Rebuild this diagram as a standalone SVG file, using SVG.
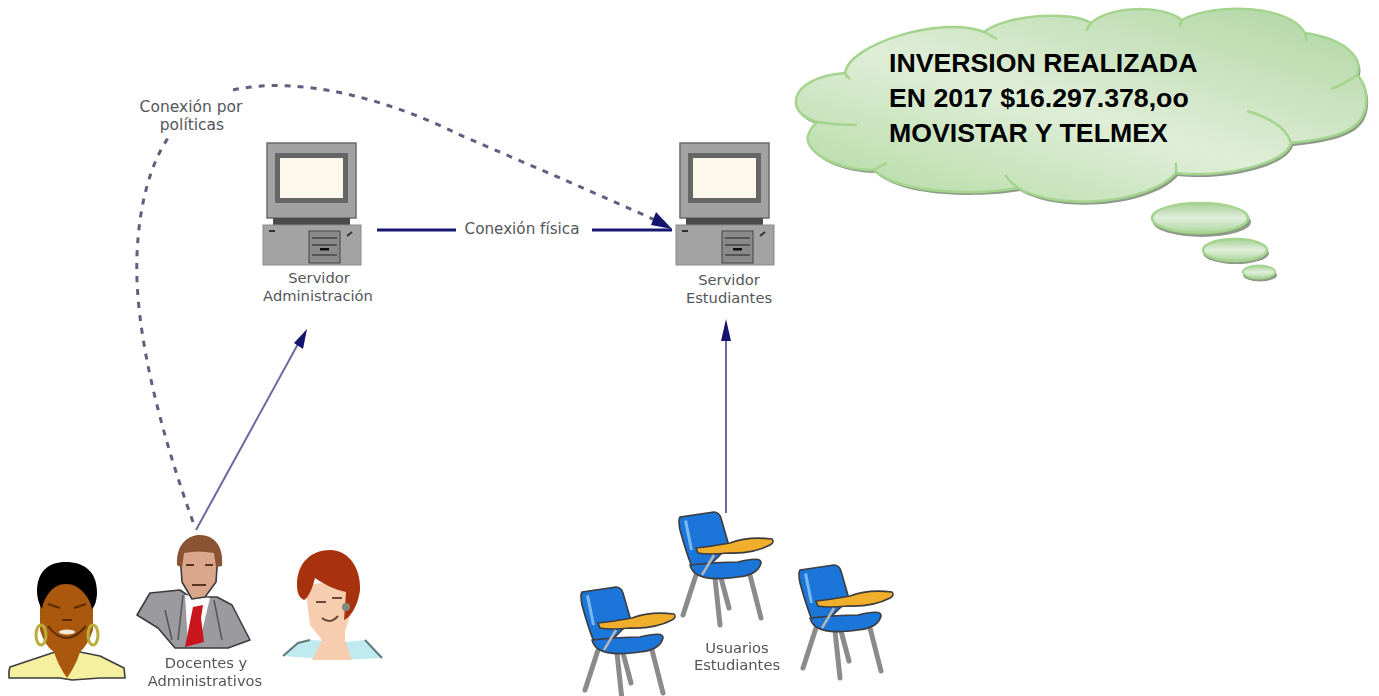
<svg xmlns="http://www.w3.org/2000/svg" xmlns:xlink="http://www.w3.org/1999/xlink" width="1379" height="696" viewBox="0 0 1379 696">
<style>
.lbl{font-family:"DejaVu Sans",Verdana,sans-serif;font-size:14.7px;fill:#55565a;text-anchor:middle}
.ct{font-family:"Liberation Sans",Arial,sans-serif;font-size:26.7px;font-weight:bold;fill:#000}
.cl{fill:url(#cg);stroke:#a4d48e;stroke-width:2.5}
.cs{fill:#8d9a88}
.cr{fill:none;stroke:#a4d48e;stroke-width:2.5}
.ink{stroke:#3c3c3c;stroke-width:1.6;stroke-linejoin:round}
.leg{fill:none;stroke:#8b8b8b;stroke-width:5;stroke-linecap:round}
.dash{fill:none;stroke:#5f5f80;stroke-width:3;stroke-dasharray:6 7}
.thin{fill:none;stroke:#6a6aa0;stroke-width:2}
.thick{fill:none;stroke:#17176e;stroke-width:3.2}
.head{fill:#14146e}
.soft{filter:url(#soft)}
</style>
<defs>
<filter id="soft" x="-5%" y="-5%" width="110%" height="110%"><feGaussianBlur stdDeviation="0.6"/></filter>
<linearGradient id="cg" x1="1" y1="0" x2="0.1" y2="1">
<stop offset="0" stop-color="#aed5a0"/><stop offset="0.55" stop-color="#dfeed7"/><stop offset="1" stop-color="#b5dba6"/>
</linearGradient>
<linearGradient id="bg" x1="0" y1="0" x2="0" y2="1">
<stop offset="0" stop-color="#a8d29a"/><stop offset="0.5" stop-color="#e0eeda"/><stop offset="1" stop-color="#add69f"/>
</linearGradient>
<path id="cloud" d="M845 73C848 45 940 15 984 32C1005 15 1070 10 1091 23C1110 5 1165 5 1182 20C1215 2 1290 5 1305 33C1340 38 1365 55 1357 75C1368 85 1368 105 1363 115C1355 135 1320 140 1291 143C1285 165 1220 178 1176 173C1150 203 1060 212 1018 188C980 195 900 195 874 170C835 170 800 150 809 133C811 128 814 124 818 122C785 115 785 78 845 73Z"/>
<g id="computer">
<rect x="267" y="143" width="89" height="75" fill="#a2a2a2" stroke="#6b6b6b" stroke-width="1.5"/>
<rect x="275" y="153" width="73" height="50" fill="#666"/>
<rect x="280" y="158" width="63" height="40" fill="#fdf8ec"/>
<rect x="273" y="218" width="77" height="8" fill="#4c4c4c"/>
<rect x="263" y="225" width="98" height="40" fill="#a3a3a3" stroke="#8a8a8a"/>
<rect x="309" y="231" width="31" height="32" fill="#8a8a8a" stroke="#444"/>
<path d="M312 238H337M312 245H337M312 255H337" stroke="#444" stroke-width="1.4"/>
<rect x="320" y="248" width="9" height="2.5" fill="#111"/>
<rect x="269" y="230" width="6" height="2" fill="#333"/>
<path d="M347 236l5-4" stroke="#333" stroke-width="2"/>
</g>
<g id="chair">
<g class="leg">
<path d="M18 65L5 105"/><path d="M37 68L42 115"/><path d="M43 68L51 98"/><path d="M72 65L83 108"/>
</g>
<path class="ink" fill="#1a74d8" stroke-width="2" d="M2 7L36 2Q41 2 43 8L51 36L32 55L14 57Q8 42 2 20Q0 10 2 7Z"/>
<path fill="#7ab8f0" d="M6 11L9 10L15 40L12 40Z"/>
<path class="ink" fill="#1a74d8" d="M12 55Q40 52 60 52Q84 46 83 53Q80 65 60 67Q30 71 20 65Q14 62 12 55Z"/>
<path class="ink" fill="#f1ae2b" d="M18 38Q30 37 52 33Q70 26 94 29Q97 32 92 35Q75 44 50 43Q30 45 20 43Z"/>
<path d="M36 45L24 65" stroke="#b6b6b6" stroke-width="2.5" fill="none"/>
</g>
</defs>

<g id="connectors">
<path class="dash" d="M193 522C160 430 134 330 137 255C139 205 150 165 168 138"/>
<path class="dash" d="M233 90C300 75 390 100 460 135C530 165 600 195 655 220"/>
<path class="head" d="M672 229L651 225L656 212Z"/>
<path class="thick" d="M377 230H456M592 230H672"/>
<path class="thin" d="M196 530L298 344"/>
<path class="head" d="M307 329L303 349L294 343Z"/>
<path class="thin" d="M726 513V338"/>
<path class="head" d="M726 319L731 341H721Z"/>
</g>

<g id="label-politicas">
<text class="lbl" x="191" y="112" style="font-size:15.5px">Conexión por</text>
<text class="lbl" x="192" y="130" style="font-size:15.5px">políticas</text>
</g>
<text id="label-fisica" class="lbl" x="522" y="234" style="font-size:15.2px">Conexión física</text>

<g id="servidor-administracion">
<use href="#computer" class="soft"/>
<text class="lbl" x="319" y="283">Servidor</text>
<text class="lbl" x="318" y="301">Administración</text>
</g>
<g id="servidor-estudiantes">
<use href="#computer" x="413" class="soft"/>
<text class="lbl" x="729" y="285">Servidor</text>
<text class="lbl" x="729" y="303">Estudiantes</text>
</g>

<g id="persona-1" class="soft">
<path class="ink" fill="#f5f0a0" d="M9 671L10 667L40 657L55 652H80L100 656L124 668L125 678H100L72 680L60 678H9Z"/>
<path fill="#a9590a" d="M40 578H93L93 630Q88 645 80 652Q76 665 67 678Q58 665 54 652Q44 645 40 630Z"/>
<path fill="#050505" d="M37 590C38 568 52 562 66 562C82 562 97 570 97 592C97 600 95 606 92 609C90 598 80 584 66 584C52 584 44 598 42 609C39 604 37 598 37 590Z"/>
<path d="M48 604L60 608M74 608L86 604M48 626Q66 650 86 626M62 620H72" stroke="#5b2a05" stroke-width="2" fill="none"/>
<ellipse cx="67" cy="632" rx="8" ry="2.5" fill="#f4e8d8"/>
<ellipse cx="41" cy="635" rx="5" ry="10" fill="none" stroke="#b9ad3e" stroke-width="3"/>
<ellipse cx="93" cy="635" rx="5" ry="10" fill="none" stroke="#b9ad3e" stroke-width="3"/>
</g>

<g id="persona-2" class="soft">
<path class="ink" fill="#9b9b9f" d="M137 615L150 593L180 590L190 597L208 597L217 597L232 605L250 640L228 648H175L158 628Z"/>
<path fill="#fdfdfd" d="M185 595L210 598L200 640L188 645Z"/>
<path fill="#c9141e" d="M193 607L203 605L201 618L204 642L185 647Z"/>
<path d="M183 595L178 640M214 600L222 640M165 610L172 640" stroke="#555" stroke-width="1.5" fill="none"/>
<path class="ink" fill="#d9a58b" d="M180 553Q200 545 218 553L216 582L205 597L192 599L182 582Z"/>
<path fill="#8a5230" d="M177 565C176 542 190 535 200 535C214 535 224 546 222 566L216 567L214 553Q198 550 184 553L182 568Z"/>
<path d="M186 565H194M205 565H213M192 585H206" stroke="#5a3322" stroke-width="2" fill="none"/>
</g>

<g id="persona-3" class="soft">
<path fill="#bfeaf0" d="M283 656L298 643L310 640L345 642L365 640L382 658L340 660Z"/>
<path fill="#f6cdae" d="M305 585L350 580L350 615L345 632L345 640L352 660H312L322 640L310 625Z"/>
<path fill="#a8330a" d="M297 585C297 562 312 550 330 550C350 550 361 570 360 590C358 606 350 618 344 620L346 592C336 590 325 585 315 578C312 590 308 598 304 600C299 598 297 592 297 585Z"/>
<path d="M316 602H326M332 598H342M322 618Q330 625 338 616" stroke="#6b4a3a" stroke-width="2" fill="none"/>
<circle cx="346" cy="607" r="4" fill="#7f8a7c"/>
<path d="M283 656L298 643L310 640M365 640L382 658" stroke="#5f7a7a" stroke-width="2" fill="none"/>
</g>

<g id="sillas" class="soft">
<use href="#chair" x="678" y="510"/>
<use href="#chair" x="580" y="585"/>
<use href="#chair" x="798" y="563"/>
</g>

<g id="label-docentes">
<text class="lbl" x="206" y="668">Docentes y</text>
<text class="lbl" x="205" y="686">Administrativos</text>
</g>
<g id="label-usuarios">
<text class="lbl" x="737" y="653">Usuarios</text>
<text class="lbl" x="737" y="670">Estudiantes</text>
</g>

<g id="nube">
<use href="#cloud" class="cs" x="2" y="3"/>
<use href="#cloud" class="cl"/>
<path class="cr" d="M845 73Q846 76 850 79M984 32Q990 35 997 39M1091 23Q1088 27 1086 31M1182 20Q1180 23 1180 27M1305 33Q1306 38 1307 42M1357 75Q1345 84 1331 89M1247 111Q1285 122 1291 143M1176 173Q1176 168 1176 163M1005 175Q1010 182 1018 188M874 170Q880 166 887 163M818 122Q835 125 857 125"/>
<ellipse class="cs" cx="1202" cy="222" rx="49" ry="15"/>
<ellipse cx="1200" cy="218" rx="48" ry="15" fill="url(#bg)" stroke="#a4d48e" stroke-width="2.5"/>
<ellipse class="cs" cx="1236" cy="253" rx="33" ry="11"/>
<ellipse cx="1235" cy="250" rx="32" ry="11" fill="url(#bg)" stroke="#a4d48e" stroke-width="2.5"/>
<ellipse class="cs" cx="1260" cy="275" rx="17" ry="6.5"/>
<ellipse cx="1259" cy="272" rx="16" ry="6.5" fill="url(#bg)" stroke="#a4d48e" stroke-width="2"/>
<text class="ct" x="889" y="72">INVERSION REALIZADA</text>
<text class="ct" x="889" y="107">EN 2017 $16.297.378,oo</text>
<text class="ct" x="889" y="142">MOVISTAR Y TELMEX</text>
</g>
</svg>
